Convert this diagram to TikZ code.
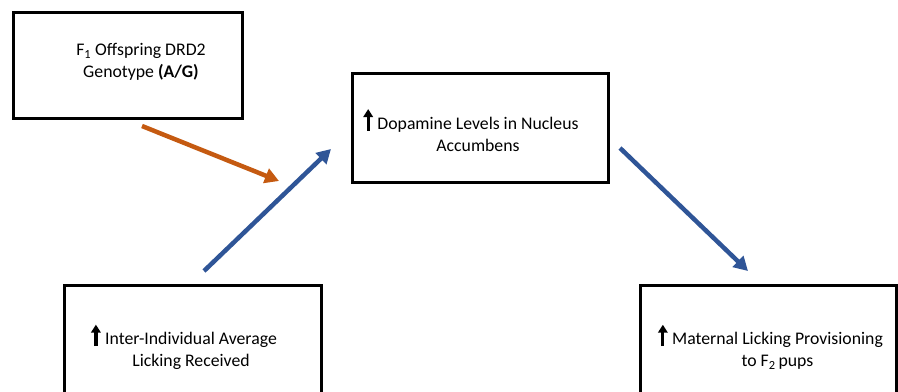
\documentclass[tikz,border=0pt]{standalone}
\usepackage{fontspec}
\setmainfont{Carlito}
\usepackage{tikz}
\usetikzlibrary{arrows.meta, positioning}
\definecolor{myorange}{RGB}{197, 90, 17}
\definecolor{myblue}{RGB}{47, 85, 151}
\tikzstyle{factor} = [rectangle, draw=black, line width=3bp, minimum width=256bp, minimum height=110bp]
\tikzstyle{factortext} = [inner sep=0pt, align=center, font=\fontsize{17.8}{22}\selectfont]
\tikzstyle{bluearrow} = [line width=4.5bp, myblue, -{Triangle[length=14bp,width=15bp]}]
\tikzstyle{orangearrow} = [line width=4.5bp, myorange, -{Triangle[length=14bp,width=15bp]}]
\newcommand{\upmark}{\llap{\tikz[baseline=0pt]\draw[line width=3.2bp,-{Triangle[length=8bp,width=9.5bp]}] (0pt,-1.5bp) -- (0pt,20bp);\hspace{4.5bp}}}

\begin{document}
\begin{tikzpicture}[x=1bp, y=-1bp]
\useasboundingbox (0,0) rectangle (898,391);

% boxes
\node[factor, minimum width=228bp, minimum height=106bp] (genotype) at (128,65) {};
\node[factor, minimum height=109bp] (dopamine) at (480,127.5) {};
\node[factor] (licking) at (193,340) {};
\node[factor] (maternal) at (768,340) {};

% texts
\node[factortext] (genotype-text) at (141,61.7) {F\textsubscript{1} Offspring DRD2\\Genotype \textbf{(A/G)}};
\node[factortext] (dopamine-text) at (478,129.3) {\upmark Dopamine Levels in Nucleus\\Accumbens};
\node[factortext] (licking-text) at (191,346.3) {\upmark Inter-Individual Average\\Licking Received};
\node[factortext] (maternal-text) at (777.5,346.3) {\upmark Maternal Licking Provisioning\\to F\textsubscript{2}\,pups};

% arrow ends
\coordinate (genotype-out) at (142,126);
\coordinate (genotype-in) at (279,181);
\coordinate (licking-out) at (204,271);
\coordinate (dopamine-in) at (331,149);
\coordinate (dopamine-out) at (620,148);
\coordinate (maternal-in) at (748,271);

\draw[orangearrow] (genotype-out) -- (genotype-in);
\draw[bluearrow] (licking-out) -- (dopamine-in);
\draw[bluearrow] (dopamine-out) -- (maternal-in);
\end{tikzpicture}
\end{document}
